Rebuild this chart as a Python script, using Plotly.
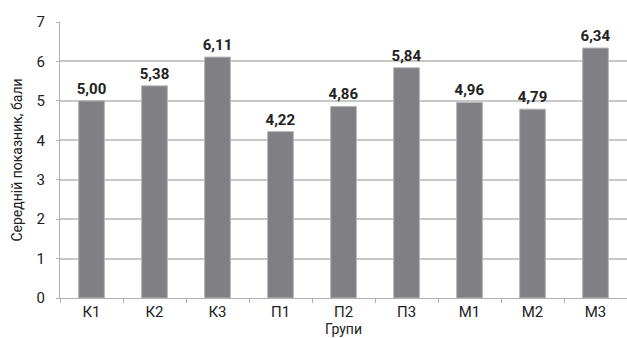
import plotly.graph_objects as go

categories = ["К1", "К2", "К3", "П1", "П2", "П3", "М1", "М2", "М3"]
values = [5.00, 5.38, 6.11, 4.22, 4.86, 5.84, 4.96, 4.79, 6.34]
value_labels = [f"{v:.2f}".replace(".", ",") for v in values]

FONT = "Roboto, Liberation Sans, sans-serif"

fig = go.Figure(go.Bar(
    x=categories, y=values, width=0.41,
    marker=dict(color="#808084", line=dict(color="#b8b8ba", width=1)),
    text=value_labels, textposition="outside", cliponaxis=False,
    constraintext="none",
    textfont=dict(family=FONT, size=15, color="#222222", weight="bold"),
))
fig.update_layout(
    width=627, height=338, margin=dict(l=60, r=0, t=22, b=40),
    plot_bgcolor="white", paper_bgcolor="white", showlegend=False,
    font=dict(family=FONT, size=14, color="#222222"),
)
fig.update_xaxes(
    title=dict(text="Групи", standoff=0, font=dict(size=14)),
    showline=True, linecolor="#b0b0b0", linewidth=1,
    ticks="outside", tickson="boundaries", ticklen=4, tickcolor="#b0b0b0",
    tickfont=dict(size=15),
)
fig.update_yaxes(
    range=[0, 7], dtick=1, showgrid=True, gridcolor="#c8c8c8", gridwidth=1.5,
    showline=True, linecolor="#b0b0b0", linewidth=1,
    ticks="outside", ticklen=3, tickcolor="#b0b0b0", ticklabelstandoff=8,
    title=dict(text="Середній показник, бали", font=dict(size=14), standoff=10),
    tickfont=dict(size=15), zeroline=False,
)
fig.write_html("out.html")
